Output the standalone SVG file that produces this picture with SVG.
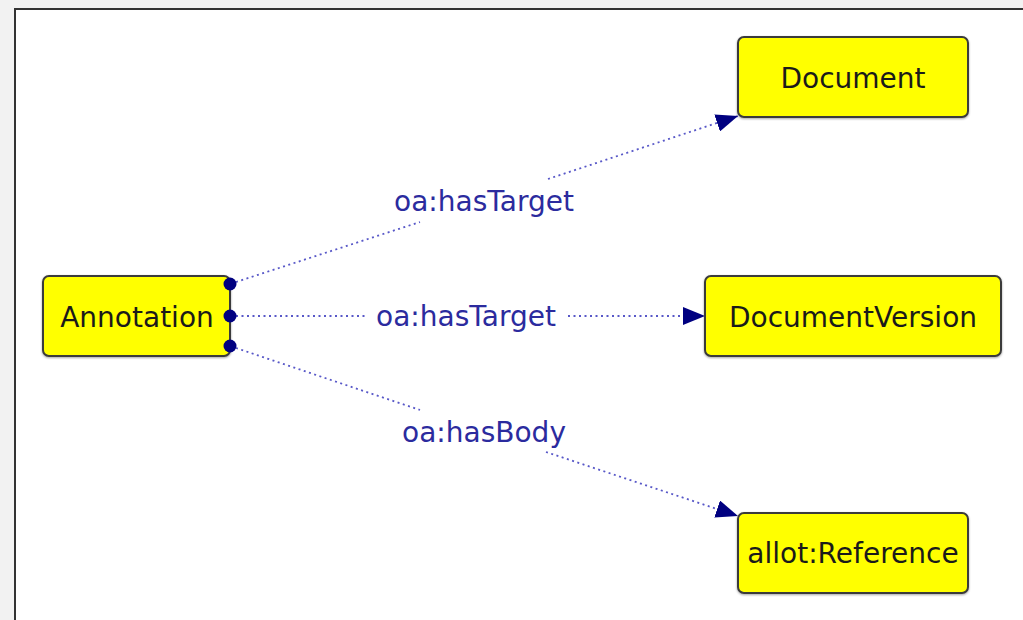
<svg xmlns="http://www.w3.org/2000/svg" width="1023" height="620" viewBox="0 0 1023 620">
<style>
.node rect{fill:#ffff00;stroke:#3a3a3a;stroke-width:2}
.node text{font-family:"DejaVu Sans",sans-serif;font-size:28px;fill:#1a1a1a;text-anchor:middle;dominant-baseline:central}
.edge{stroke:#5858c8;stroke-width:1.8;stroke-dasharray:2 3.5;fill:none}
.lbl{font-family:"DejaVu Sans",sans-serif;font-size:28px;fill:#2b2b9e;text-anchor:middle;dominant-baseline:central}
.port{fill:#000080}
</style>
<defs>
<marker id="arr" viewBox="0 0 22 18" refX="22" refY="9" markerWidth="22" markerHeight="18" markerUnits="userSpaceOnUse" orient="auto">
<path d="M0,0 L22,9 L0,18 Z" fill="#000080"/>
</marker>
<filter id="sh" x="-10%" y="-10%" width="120%" height="130%">
<feDropShadow dx="0" dy="1" stdDeviation="1" flood-color="#000" flood-opacity="0.35"/>
</filter>
</defs>
<rect x="0" y="0" width="1023" height="620" fill="#f2f2f2"/>
<rect x="15" y="9" width="1010" height="615" fill="#ffffff" stroke="#333" stroke-width="2"/>
<g id="connectors">
<path class="edge" d="M236,282 L420,222"/>
<path class="edge" d="M548,179 L738,116" marker-end="url(#arr)"/>
<text class="lbl" x="484" y="201">oa:hasTarget</text>
<path class="edge" d="M236,316 L368,316"/>
<path class="edge" d="M568,316 L705,316" marker-end="url(#arr)"/>
<text class="lbl" x="466" y="316">oa:hasTarget</text>
<path class="edge" d="M236,348 L420,410"/>
<path class="edge" d="M546,452 L738,516" marker-end="url(#arr)"/>
<text class="lbl" x="484" y="432">oa:hasBody</text>
</g>
<g id="node-document" class="node">
<rect x="738" y="37" width="230" height="80" rx="6" filter="url(#sh)"/>
<text x="853" y="78">Document</text>
</g>
<g id="node-documentversion" class="node">
<rect x="705" y="276" width="296" height="80" rx="6" filter="url(#sh)"/>
<text x="853" y="317">DocumentVersion</text>
</g>
<g id="node-reference" class="node">
<rect x="738" y="513" width="230" height="80" rx="6" filter="url(#sh)"/>
<text x="853" y="553">allot:Reference</text>
</g>
<g id="node-annotation" class="node">
<rect x="43" y="276" width="187" height="80" rx="6" filter="url(#sh)"/>
<text x="137" y="317">Annotation</text>
<circle class="port" cx="230" cy="284" r="6.5"/>
<circle class="port" cx="230" cy="316" r="6.5"/>
<circle class="port" cx="230" cy="346" r="6.5"/>
</g>
</svg>
